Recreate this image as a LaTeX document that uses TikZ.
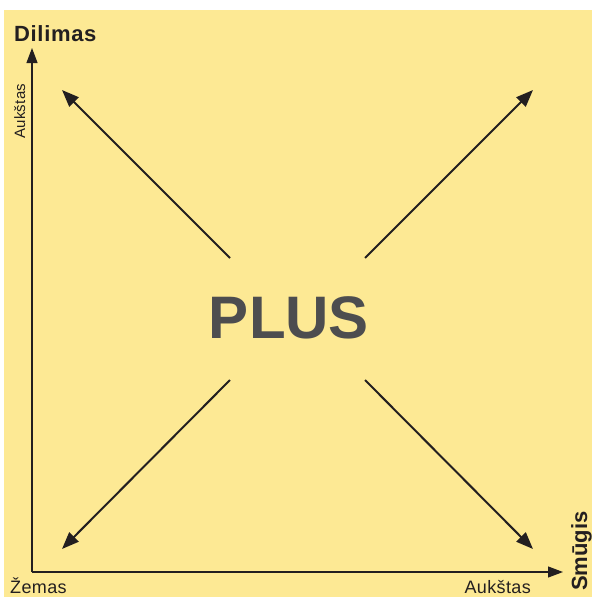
\documentclass[tikz,border=0pt]{standalone}
\usepackage{fontspec}
\setmainfont{Liberation Sans}
\usetikzlibrary{arrows.meta}
\definecolor{paper}{HTML}{FDE994}
\definecolor{ink}{HTML}{231F20}
\definecolor{slate}{HTML}{4D4D4F}

\begin{document}
\begin{tikzpicture}[x=1pt,y=-1pt,
  axis/.style={draw=ink,line width=1.1pt,-{Triangle[length=15pt,width=11pt]}},
  push/.style={draw=ink,line width=2pt,-{Triangle[length=17pt,width=13pt]}},
  lab/.style={text=ink,inner sep=0pt,font=\fontsize{18}{21}\selectfont\addfontfeatures{LetterSpace=2}},
  head/.style={text=ink,inner sep=0pt,font=\bfseries\fontsize{22}{26}\selectfont\addfontfeatures{LetterSpace=3}}]
\useasboundingbox (0,0) rectangle (592,597);
\fill[paper] (4,10) rectangle (592,597);
% axes
\coordinate (o) at (32,572);
\coordinate (ytop) at (32,48);
\coordinate (xend) at (563,572);
\draw[axis] (o) -- (ytop);
\draw[axis] (o) -- (xend);
\node[head,anchor=base west] (dil) at (14,41) {Dilimas};
\node[lab,font=\fontsize{15}{18}\selectfont\addfontfeatures{LetterSpace=2},rotate=90,anchor=base west] (hiy) at (25,139) {Aukštas};
\node[lab,anchor=base west] (low) at (10,593) {Žemas};
\node[lab,anchor=base east] (hix) at (531,593) {Aukštas};
\node[head,font=\bfseries\fontsize{22}{26}\selectfont,rotate=90,anchor=base west] (smu) at (587,591) {Smūgis};
% centre
\node[text=slate,font=\bfseries\fontsize{60}{60}\selectfont,inner sep=0pt] (plus) at (289,318) {PLUS};
\coordinate (nw0) at (230,258); \coordinate (nw1) at (62,90);
\coordinate (ne0) at (365,258); \coordinate (ne1) at (533,90);
\coordinate (sw0) at (230,380); \coordinate (sw1) at (62,549);
\coordinate (se0) at (365,380); \coordinate (se1) at (533,549);
\draw[push] (nw0) -- (nw1);
\draw[push] (ne0) -- (ne1);
\draw[push] (sw0) -- (sw1);
\draw[push] (se0) -- (se1);
\end{tikzpicture}
\end{document}
